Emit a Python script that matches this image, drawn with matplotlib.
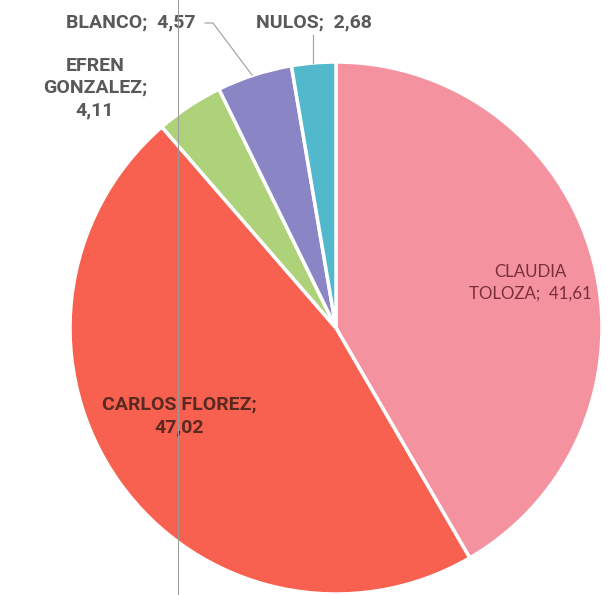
import matplotlib
matplotlib.use("Agg")
import matplotlib.pyplot as plt
from matplotlib.lines import Line2D

categories = ["CLAUDIA TOLOZA", "CARLOS FLOREZ", "EFREN GONZALEZ", "BLANCO", "NULOS"]
values = [41.61, 47.02, 4.11, 4.57, 2.68]
label_texts = ["CLAUDIA\nTOLOZA;  41,61", "CARLOS FLOREZ;\n47,02", "EFREN\nGONZALEZ;\n4,11",
               "BLANCO;  4,57", "NULOS;  2,68"]
colors = ["#F4939F", "#F8604F", "#AED27A", "#8A85C4", "#52B8CC"]

W, H = 610, 595
fig = plt.figure(figsize=(W / 100, H / 100), dpi=100)
ax = fig.add_axes([0, 0, 1, 1])
cx, cy, R = 336, 328, 266

wedges, _ = ax.pie(values, colors=colors, startangle=90, counterclock=False,
                   wedgeprops=dict(edgecolor="white", linewidth=2.5), radius=1.0)
ax.set_aspect("auto")
ax.set_xlim(-cx / R, (W - cx) / R)
ax.set_ylim((cy - H) / R, cy / R)
ax.axis("off")

def P(px, py):
    return ((px - cx) / R, (cy - py) / R)

reg = "Lato"
bold = "Roboto"
ax.text(*P(530, 283), label_texts[0], ha="center", va="center", fontsize=12.2,
        color="#7A2E3A", family=reg, linespacing=1.45)
ax.text(*P(179, 416), label_texts[1], ha="center", va="center", fontsize=14,
        color="#5A2A22", family=bold, fontweight="bold", linespacing=1.4)
ax.text(*P(95, 88), label_texts[2], ha="center", va="center", fontsize=14,
        color="#595959", family=bold, fontweight="bold", linespacing=1.3)
ax.text(*P(196, 22), label_texts[3], ha="right", va="center", fontsize=14,
        color="#595959", family=bold, fontweight="bold")
ax.text(*P(314, 22), label_texts[4], ha="center", va="center", fontsize=14,
        color="#595959", family=bold, fontweight="bold")

# leader lines
x1, y1 = P(205, 23); x2, y2 = P(213, 23); x3, y3 = P(252, 75)
ax.plot([x1, x2, x3], [y1, y2, y3], color="#A6A6A6", lw=0.9)
xa, ya = P(313, 35); xb, yb = P(313, 63)
ax.plot([xa, xb], [ya, yb], color="#A6A6A6", lw=0.9)

# thin vertical scan line
fig.add_artist(Line2D([178 / W, 178 / W], [0, 1], color="#9A9A9A", lw=0.7,
                      transform=fig.transFigure))

fig.savefig("out.png", dpi=100, facecolor="white")
